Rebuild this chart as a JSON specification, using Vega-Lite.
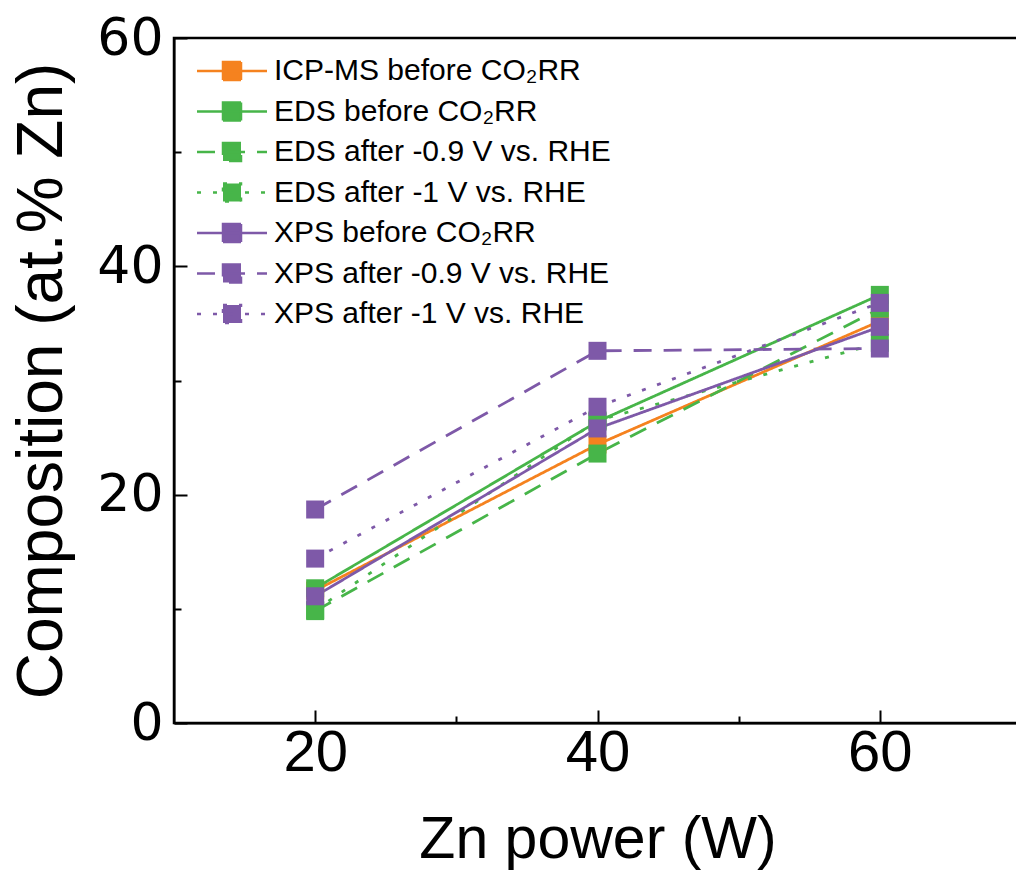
{
  "$schema": "https://vega.github.io/schema/vega-lite/v6.json",
  "autosize": "none",
  "padding": {"left": 174, "top": 38, "right": 0, "bottom": 161},
  "width": 847,
  "height": 685,
  "background": "white",
  "config": {
    "view": {"stroke": "black", "strokeWidth": 2.5},
    "font": "Liberation Sans"
  },
  "resolve": {"axis": {"x": "independent", "y": "independent"}},
  "data": {
    "values": [
      {"power": 20, "comp": 11.6, "series": "ICP-MS before CO₂RR"},
      {"power": 40, "comp": 24.4, "series": "ICP-MS before CO₂RR"},
      {"power": 60, "comp": 35.2, "series": "ICP-MS before CO₂RR"},
      {"power": 20, "comp": 11.8, "series": "EDS before CO₂RR"},
      {"power": 40, "comp": 26.4, "series": "EDS before CO₂RR"},
      {"power": 60, "comp": 37.5, "series": "EDS before CO₂RR"},
      {"power": 20, "comp": 9.8, "series": "EDS after -0.9 V vs. RHE"},
      {"power": 40, "comp": 23.6, "series": "EDS after -0.9 V vs. RHE"},
      {"power": 60, "comp": 36.3, "series": "EDS after -0.9 V vs. RHE"},
      {"power": 20, "comp": 9.9, "series": "EDS after -1 V vs. RHE"},
      {"power": 40, "comp": 26.5, "series": "EDS after -1 V vs. RHE"},
      {"power": 60, "comp": 33.3, "series": "EDS after -1 V vs. RHE"},
      {"power": 20, "comp": 11.1, "series": "XPS before CO₂RR"},
      {"power": 40, "comp": 25.8, "series": "XPS before CO₂RR"},
      {"power": 60, "comp": 34.7, "series": "XPS before CO₂RR"},
      {"power": 20, "comp": 18.7, "series": "XPS after -0.9 V vs. RHE"},
      {"power": 40, "comp": 32.6, "series": "XPS after -0.9 V vs. RHE"},
      {"power": 60, "comp": 32.8, "series": "XPS after -0.9 V vs. RHE"},
      {"power": 20, "comp": 14.4, "series": "XPS after -1 V vs. RHE"},
      {"power": 40, "comp": 27.7, "series": "XPS after -1 V vs. RHE"},
      {"power": 60, "comp": 36.8, "series": "XPS after -1 V vs. RHE"}
    ]
  },
  "layer": [
    {
      "mark": {"type": "line", "strokeWidth": 2.8},
      "encoding": {
        "x": {
          "field": "power", "type": "quantitative",
          "scale": {"domain": [10, 70], "nice": false, "zero": false},
          "axis": {
            "title": "Zn power (W)",
            "orient": "bottom",
            "values": [20, 40, 60],
            "grid": false,
            "domainColor": "black", "domainWidth": 2,
            "tickColor": "black", "tickWidth": 2,
            "tickSize": -13,
            "labelFont": "Liberation Sans", "labelFontSize": 58, "labelColor": "black",
            "labelPadding": 14,
            "titleFont": "Liberation Sans", "titleFontSize": 59, "titleFontWeight": "normal", "titleColor": "black",
            "titlePadding": 28
          }
        },
        "y": {
          "field": "comp", "type": "quantitative",
          "scale": {"domain": [0, 60], "nice": false},
          "axis": {
            "title": "Composition (at.% Zn)",
            "orient": "left",
            "values": [0, 20, 40, 60],
            "grid": false,
            "domainColor": "black", "domainWidth": 2,
            "tickColor": "black", "tickWidth": 2,
            "tickSize": -13,
            "labelFont": "DejaVu Sans", "labelFontSize": 52, "labelColor": "black",
            "labelPadding": 24,
            "titleFont": "Liberation Sans", "titleFontSize": 64, "titleFontWeight": "normal", "titleColor": "black",
            "titlePadding": 22
          }
        },
        "color": {
          "field": "series", "type": "nominal",
          "scale": {
            "domain": ["ICP-MS before CO₂RR", "EDS before CO₂RR", "EDS after -0.9 V vs. RHE", "EDS after -1 V vs. RHE", "XPS before CO₂RR", "XPS after -0.9 V vs. RHE", "XPS after -1 V vs. RHE"],
            "range": ["#F5821F", "#47B549", "#47B549", "#47B549", "#7E59A8", "#7E59A8", "#7E59A8"]
          },
          "legend": {
            "title": null,
            "orient": "none",
            "legendX": 43,
            "legendY": 18,
            "symbolType": "M-3.5,0H3.5M-0.9,-0.9H0.9V0.9H-0.9Z",
            "symbolSize": 400,
            "symbolStrokeWidth": 2.5,
            "labelFont": "Liberation Sans",
            "labelFontSize": 30,
            "labelColor": "black",
            "labelOffset": 27,
            "labelLimit": 600,
            "rowPadding": 10.5,
            "padding": 0,
            "encode": {"symbols": {"update": {"fill": {"scale": "color", "field": "value"}, "stroke": {"scale": "color", "field": "value"}, "opacity": {"value": 1}}}}
          }
        },
        "strokeDash": {
          "field": "series", "type": "nominal",
          "scale": {
            "domain": ["ICP-MS before CO₂RR", "EDS before CO₂RR", "EDS after -0.9 V vs. RHE", "EDS after -1 V vs. RHE", "XPS before CO₂RR", "XPS after -0.9 V vs. RHE", "XPS after -1 V vs. RHE"],
            "range": [[1, 0], [1, 0], [18, 12], [4, 12], [1, 0], [18, 12], [4, 12]]
          }
        }
      }
    },
    {
      "mark": {"type": "point", "shape": "square", "filled": true, "size": 324, "opacity": 1},
      "encoding": {
        "x": {
          "field": "power", "type": "quantitative",
          "axis": {
            "title": null, "orient": "bottom", "values": [30, 50], "labels": false, "domain": false, "grid": false,
            "tickColor": "black", "tickWidth": 2, "tickSize": -7
          }
        },
        "y": {
          "field": "comp", "type": "quantitative",
          "axis": {
            "title": null, "orient": "left", "values": [10, 30, 50], "labels": false, "domain": false, "grid": false,
            "tickColor": "black", "tickWidth": 2, "tickSize": -7
          }
        },
        "color": {"field": "series", "type": "nominal"}
      }
    }
  ]
}
